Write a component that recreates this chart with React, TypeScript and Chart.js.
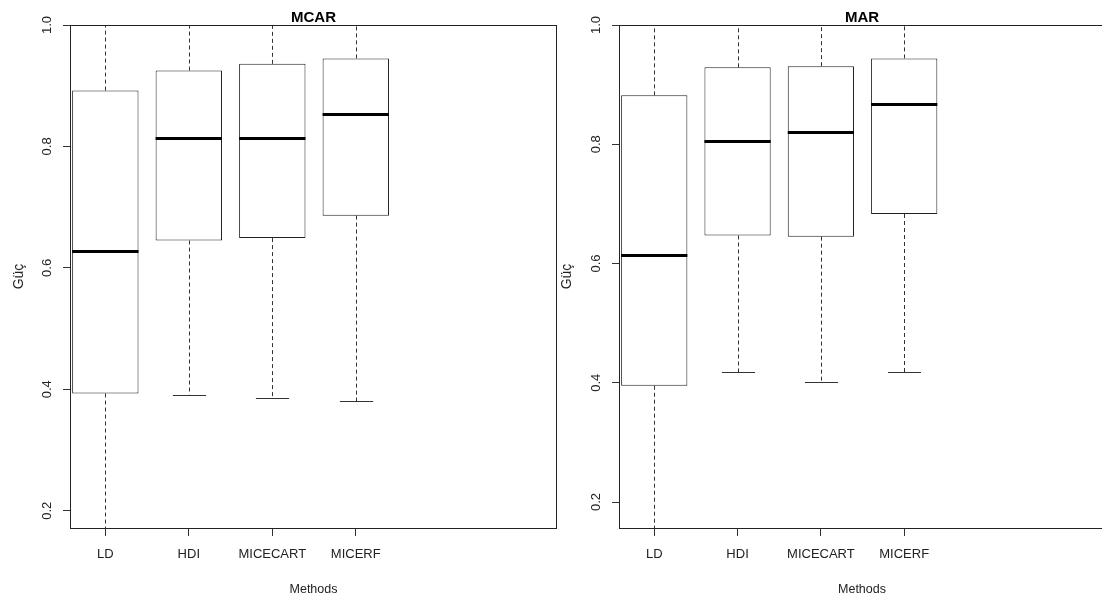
import React, { useEffect, useRef } from 'react';
import { Chart, registerables } from 'chart.js';

Chart.register(...registerables);

const FONT = '"Liberation Sans", Arial, Helvetica, sans-serif';

const methods = ['LD', 'HDI', 'MICECART', 'MICERF'];
const yTickValues = [0.2, 0.4, 0.6, 0.8, 1.0];

// MCAR panel (lower whisker of LD extends below the visible range)
const mcarMin = [0.14, 0.391, 0.386, 0.380];
const mcarQ1 = [0.393, 0.645, 0.649, 0.686];
const mcarMedian = [0.627, 0.814, 0.814, 0.853];
const mcarQ3 = [0.892, 0.925, 0.936, 0.945];
const mcarMax = [1.0, 1.0, 1.0, 1.0];

// MAR panel
const marMin = [0.14, 0.418, 0.402, 0.418];
const marQ1 = [0.395, 0.647, 0.645, 0.683];
const marMedian = [0.615, 0.806, 0.821, 0.868];
const marQ3 = [0.882, 0.929, 0.931, 0.944];
const marMax = [1.0, 1.0, 1.0, 1.0];

type PanelCfg = {
  title: string;
  left: number;
  width: number;
  yMin: number;
  yAxisWidth: number;
  padRight: number;
  yTitlePad: number;
  lo: number[];
  q1: number[];
  med: number[];
  q3: number[];
  hi: number[];
};

const panels: PanelCfg[] = [
  {
    title: 'MCAR', left: 0, width: 560, yMin: 0.1715, yAxisWidth: 70, padRight: 3, yTitlePad: 11,
    lo: mcarMin, q1: mcarQ1, med: mcarMedian, q3: mcarQ3, hi: mcarMax,
  },
  {
    title: 'MAR', left: 540, width: 570, yMin: 0.1564, yAxisWidth: 79, padRight: 5, yTitlePad: 19,
    lo: marMin, q1: marQ1, med: marMedian, q3: marQ3, hi: marMax,
  },
];

function makeBoxPlugin(cfg: PanelCfg) {
  return {
    id: 'boxExtras',
    afterDatasetsDraw(chart: any) {
      const { ctx, chartArea, scales } = chart;
      const xs = scales.x;
      const ys = scales.y;
      const meta = chart.getDatasetMeta(0);
      ctx.save();
      ctx.beginPath();
      ctx.rect(chartArea.left, chartArea.top, chartArea.right - chartArea.left, chartArea.bottom - chartArea.top);
      ctx.clip();
      methods.forEach((_, i) => {
        const bar = meta.data[i];
        const half = bar.width / 2;
        const cx = Math.round(xs.getPixelForValue(i + 1)) + 0.5;
        const pLo = ys.getPixelForValue(cfg.lo[i]);
        const pQ1 = ys.getPixelForValue(cfg.q1[i]);
        const pMed = ys.getPixelForValue(cfg.med[i]);
        const pQ3 = ys.getPixelForValue(cfg.q3[i]);
        const pHi = ys.getPixelForValue(cfg.hi[i]);
        // whiskers
        ctx.strokeStyle = '#333';
        ctx.lineWidth = 1;
        ctx.setLineDash([4, 3]);
        ctx.beginPath();
        ctx.moveTo(cx, pQ3);
        ctx.lineTo(cx, pHi);
        ctx.moveTo(cx, pQ1);
        ctx.lineTo(cx, pLo);
        ctx.stroke();
        ctx.setLineDash([]);
        // caps
        ctx.beginPath();
        const capL = cx - half / 2;
        const capR = cx + half / 2;
        ctx.moveTo(capL, Math.round(pHi) + 0.5);
        ctx.lineTo(capR, Math.round(pHi) + 0.5);
        ctx.moveTo(capL, Math.round(pLo) + 0.5);
        ctx.lineTo(capR, Math.round(pLo) + 0.5);
        ctx.stroke();
        // median
        ctx.strokeStyle = '#000';
        ctx.lineWidth = 3;
        ctx.beginPath();
        ctx.moveTo(bar.x - half, Math.round(pMed) + 0.5);
        ctx.lineTo(bar.x + half, Math.round(pMed) + 0.5);
        ctx.stroke();
      });
      ctx.restore();

      // frame
      ctx.save();
      ctx.strokeStyle = '#222';
      ctx.lineWidth = 1;
      ctx.strokeRect(
        Math.round(chartArea.left) + 0.5,
        Math.round(chartArea.top) + 0.5,
        Math.round(chartArea.right - chartArea.left) - 1,
        Math.round(chartArea.bottom - chartArea.top)
      );
      // rotated y tick labels (R style, parallel to axis)
      ctx.fillStyle = '#222';
      ctx.font = `13px ${FONT}`;
      ctx.textAlign = 'center';
      ctx.textBaseline = 'middle';
      ys.ticks.forEach((t: any) => {
        const py = ys.getPixelForValue(t.value);
        ctx.save();
        ctx.translate(chartArea.left - 23, py);
        ctx.rotate(-Math.PI / 2);
        ctx.fillText(Number(t.value).toFixed(1), 0, 0);
        ctx.restore();
      });
      ctx.restore();
    },
  };
}

function Panel({ cfg }: { cfg: PanelCfg }) {
  const ref = useRef<HTMLCanvasElement | null>(null);
  useEffect(() => {
    if (!ref.current) return;
    const chart = new Chart(ref.current, {
      type: 'bar',
      data: {
        datasets: [
          {
            data: methods.map((_, i) => ({ x: i + 1, y: [cfg.q1[i], cfg.q3[i]] })) as any,
            backgroundColor: '#ffffff',
            borderColor: '#222',
            borderWidth: 1,
            borderSkipped: false,
            barPercentage: 0.795,
            categoryPercentage: 1,
            inflateAmount: 0,
          } as any,
        ],
      },
      options: {
        responsive: false,
        animation: false,
        events: [],
        layout: { padding: { left: 0, right: cfg.padRight, top: 0, bottom: 0 } },
        plugins: {
          legend: { display: false },
          tooltip: { enabled: false },
          title: {
            display: true,
            text: cfg.title,
            fullSize: false,
            color: '#000',
            font: { family: FONT, size: 15, weight: 'bold', lineHeight: '14px' } as any,
            padding: { top: 11, bottom: 0 },
          },
        },
        scales: {
          x: {
            type: 'linear',
            position: 'bottom',
            offset: false,
            min: 0.577,
            max: 6.41,
            afterBuildTicks: (scale: any) => {
              scale.ticks = methods.map((_, i) => ({ value: i + 1 }));
            },
            afterFit: (scale: any) => {
              scale.height = 73;
            },
            ticks: {
              autoSkip: false,
              maxRotation: 0,
              minRotation: 0,
              padding: 11,
              color: '#222',
              font: { family: FONT, size: 13 },
              callback: (v: any) => methods[Number(v) - 1] ?? '',
            },
            grid: {
              display: true,
              offset: false,
              drawOnChartArea: false,
              drawTicks: true,
              tickLength: 8,
              color: '#333',
              lineWidth: 1,
            },
            border: { display: false },
            title: {
              display: true,
              text: 'Methods',
              color: '#222',
              font: { family: FONT, size: 12.5 },
              padding: { top: 0, bottom: 4 },
            },
          },
          y: {
            type: 'linear',
            min: cfg.yMin,
            max: 1.0,
            afterBuildTicks: (scale: any) => {
              scale.ticks = yTickValues.map((v) => ({ value: v }));
            },
            afterFit: (scale: any) => {
              scale.width = cfg.yAxisWidth;
            },
            ticks: { display: false },
            grid: { display: true, drawOnChartArea: false, drawTicks: true, tickLength: 7, color: '#333', lineWidth: 1 },
            border: { display: false },
            title: {
              display: true,
              text: 'Güç',
              color: '#222',
              font: { family: FONT, size: 14 },
              padding: { top: cfg.yTitlePad, bottom: 0 },
            },
          },
        },
      },
      plugins: [makeBoxPlugin(cfg)],
    });
    return () => chart.destroy();
  }, [cfg]);
  return (
    <canvas
      ref={ref}
      width={cfg.width}
      height={601}
      style={{ position: 'absolute', left: cfg.left, top: 0, width: cfg.width, height: 601 }}
    />
  );
}

export default function App() {
  return (
    <div
      style={{
        position: 'absolute',
        left: 0,
        top: 0,
        width: 1102,
        height: 601,
        overflow: 'hidden',
        background: '#fff',
      }}
    >
      {panels.map((p) => (
        <Panel key={p.title} cfg={p} />
      ))}
    </div>
  );
}
